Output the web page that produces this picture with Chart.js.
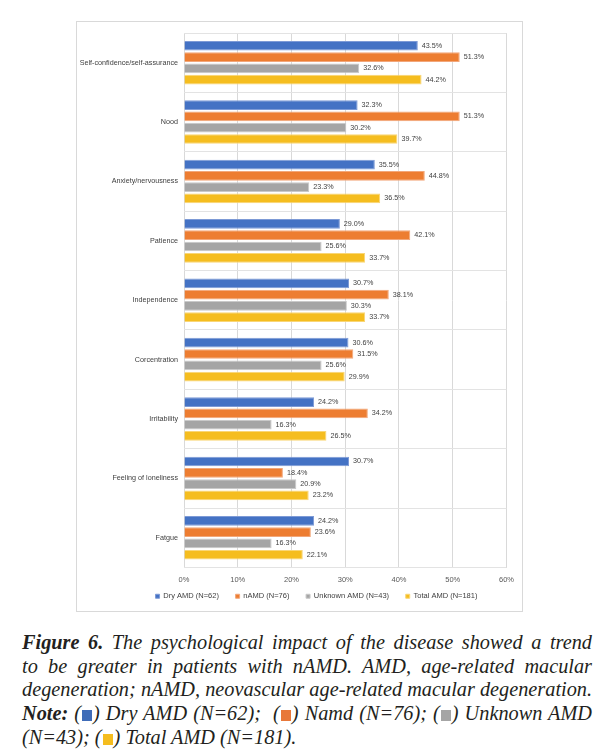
<!DOCTYPE html>
<html>
<head>
<meta charset="utf-8">
<script src="https://cdn.jsdelivr.net/npm/chart.js@4.4.1/dist/chart.umd.min.js"></script>
<style>
  html, body { margin: 0; padding: 0; background: #fff; }
  body { width: 615px; height: 752px; position: relative; overflow: hidden; }
  #box { position: absolute; left: 76px; top: 21px; width: 445px; height: 589px; border: 1px solid #d9d9d9; }
  #caption { position: absolute; left: 22px; top: 631px; width: 570px; font-family: "Liberation Serif", "Times New Roman", serif; font-style: italic; font-size: 20.3px; line-height: 23.7px; color: #231f20; }
  #caption .ln { text-align: justify; text-align-last: justify; white-space: nowrap; }
  #caption .last { text-align: left; text-align-last: left; }
  #caption b { font-weight: bold; }
  .sq { display: inline-block; width: 10px; height: 11px; vertical-align: -1px; margin: 0 1px; }
</style>
</head>
<body>
<div id="box"><canvas id="canvas" width="445" height="589"></canvas></div>
<div id="caption">
  <div class="ln"><b>Figure 6.</b> The psychological impact of the disease showed a trend</div>
  <div class="ln">to be greater in patients with nAMD. AMD, age-related macular</div>
  <div class="ln">degeneration; nAMD, neovascular age-related macular degeneration.</div>
  <div class="ln"><b>Note:</b> (<span class="sq" style="background:#3f6cb8"></span>) Dry AMD (N=62);&nbsp; (<span class="sq" style="background:#e8783a"></span>) Namd (N=76); (<span class="sq" style="background:#a5a5a5"></span>) Unknown AMD</div>
  <div class="ln last">(N=43); (<span class="sq" style="background:#f5bd1f"></span>) Total AMD (N=181).</div>
</div>
<script>
/* datos */

const categorias = ["Self-confidence/self-assurance", "Nood", "Anxiety/nervousness", "Patience", "Independence", "Corcentration", "Irritability", "Feeling of loneliness", "Fatgue"];
const series = ["Dry AMD (N=62)", "nAMD (N=76)", "Unknown AMD (N=43)", "Total AMD (N=181)"];
const dryAmd = [43.5, 32.3, 35.5, 29.0, 30.7, 30.6, 24.2, 30.7, 24.2];
const nAmd = [51.3, 51.3, 44.8, 42.1, 38.1, 31.5, 34.2, 18.4, 23.6];
const unknownAmd = [32.6, 30.2, 23.3, 25.6, 30.3, 25.6, 16.3, 20.9, 16.3];
const totalAmd = [44.2, 39.7, 36.5, 33.7, 33.7, 29.9, 26.5, 23.2, 22.1];
const ticksX = [0, 10, 20, 30, 40, 50, 60];

const colores = ['#4472c4', '#ed7d31', '#a5a5a5', '#f5bd1f'];
const bordes = ['#7d9ad6', '#f2a77a', '#c9c9c9', '#f9d676'];

const fuente = '"Liberation Sans", Arial, sans-serif';

/* etiquetas de valor */

const etiquetas = {
    id: 'etiquetas',
    afterDatasetsDraw(chart) {
        const c = chart.ctx;
        c.save();
        c.font = '7.2px ' + fuente;
        c.fillStyle = '#404040';
        c.textBaseline = 'middle';
        c.textAlign = 'left';
        chart.data.datasets.forEach(function(ds, i) {
            chart.getDatasetMeta(i).data.forEach(function(bar, j) {
                c.fillText(ds.data[j].toFixed(1) + '%', bar.x + 4, bar.y);
            });
        });
        c.restore();
    }
};

/* leyenda un poco a la derecha */

const moverLeyenda = {
    id: 'moverLeyenda',
    afterUpdate(chart) {
        chart.legend.left += 24;
        chart.legend.right += 24;
    }
};

/* grafica */

const ctx = document.getElementById('canvas');
const valores = [dryAmd, nAmd, unknownAmd, totalAmd];

var data = {
    labels: categorias,
    datasets: series.map(function(nombre, i) {
        return {
            label: nombre,
            data: valores[i],
            backgroundColor: colores[i],
            borderColor: bordes[i],
            borderWidth: 1,
            categoryPercentage: 0.76,
            barPercentage: 0.86
        };
    })
};

var chart1 = new Chart(ctx, {
    type: 'bar',
    data: data,
    plugins: [etiquetas, moverLeyenda],
    options: {
        indexAxis: 'y',
        responsive: false,
        animation: false,
        layout: { padding: { top: 11, right: 14, left: 0, bottom: 1 } },
        scales: {
            x: {
                min: 0,
                max: 60,
                afterBuildTicks: function(scale) {
                    scale.ticks = ticksX.map(function(v) { return { value: v }; });
                },
                ticks: {
                    callback: function(v) { return v + '%'; },
                    font: { family: fuente, size: 7.5 },
                    color: '#595959',
                    padding: 8
                },
                grid: { color: '#d9d9d9', drawTicks: false },
                border: { display: false }
            },
            y: {
                afterFit: function(scale) { scale.width = 107; },
                ticks: {
                    font: { family: fuente, size: 7.2 },
                    color: '#404040',
                    padding: 6,
                    autoSkip: false
                },
                grid: { color: '#e3e3e3', drawTicks: false },
                border: { display: false }
            }
        },
        plugins: {
            legend: {
                position: 'bottom',
                align: 'center',
                labels: {
                    boxWidth: 4,
                    boxHeight: 4,
                    padding: 0,
                    color: '#404040',
                    font: { family: fuente, size: 7.5 },
                    generateLabels: function(chart) {
                        var items = Chart.defaults.plugins.legend.labels.generateLabels(chart);
                        items.forEach(function(it, i) {
                            if (i < items.length - 1) it.text = it.text + '        ';
                        });
                        return items;
                    }
                }
            },
            tooltip: { enabled: false }
        }
    }
});
</script>
</body>
</html>
